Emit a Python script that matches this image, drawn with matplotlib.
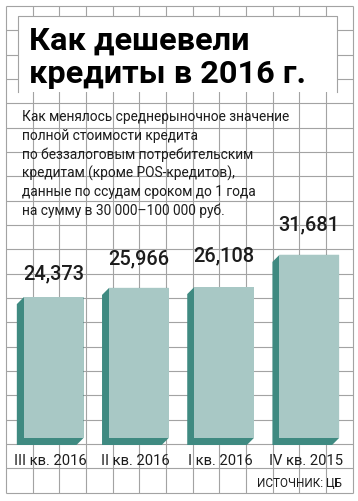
import matplotlib
matplotlib.use("Agg")
import matplotlib.pyplot as plt
from matplotlib.patches import Rectangle, Polygon

# ---------------- data ----------------
categories = ["III кв. 2016", "II кв. 2016", "I кв. 2016", "IV кв. 2015"]
values = [24.373, 25.966, 26.108, 31.681]
value_labels = ["24,373", "25,966", "26,108", "31,681"]
title_lines = ["Как дешевели", "кредиты в 2016 г."]
subtitle_lines = [
    "Как менялось среднерыночное значение",
    "полной стоимости кредита",
    "по беззалоговым потребительским",
    "кредитам (кроме POS-кредитов),",
    "данные по ссудам сроком до 1 года",
    "на сумму в 30 000–100 000 руб.",
]
source = "ИСТОЧНИК: ЦБ"

# ---------------- layout / style ----------------
W, H = 358, 501
DPI = 100
def pt(px):
    return px * 72.0 / DPI

FONT = ["Roboto", "DejaVu Sans"]
grid_color = "#a3a3a3"
face_color = "#a8c8c5"
side_color = "#3f8a81"
text_color = "#1c1c1c"

fig = plt.figure(figsize=(W / DPI, H / DPI), dpi=DPI)
fig.patch.set_facecolor("white")

# background axes in pixel coordinates (y downwards)
bg = fig.add_axes([0, 0, 1, 1])
bg.set_xlim(0, W)
bg.set_ylim(H, 0)
bg.axis("off")

xs = [6 + 26.67 * k for k in range(14)]
ys = [6 + 24.33 * k for k in range(21)]
bg.vlines(xs, ys[0], ys[-1], color=grid_color, lw=0.8, zorder=1)
bg.hlines(ys, xs[0], xs[-1], color=grid_color, lw=0.8, zorder=1)

# title box
bg.add_patch(Rectangle((18, 16), 319, 76, facecolor="white", edgecolor="none", zorder=2))
bg.plot([18, 18, 337, 337], [92, 16, 16, 92], color=grid_color, lw=0.8, zorder=3)
title_baselines = [49.3, 82.7]
for line, yb in zip(title_lines, title_baselines):
    bg.text(29, yb, line, fontsize=pt(32.5), fontweight="bold",
            family=FONT, color="black", va="baseline", ha="left", zorder=4)

for i, line in enumerate(subtitle_lines):
    bg.text(22, 120.7 + 18.9 * i, line, fontsize=pt(13.8), family=FONT,
            color=text_color, va="baseline", ha="left", zorder=4)

bg.text(341.7, 486.7, source, fontsize=pt(11.8), family=FONT,
        color=text_color, va="baseline", ha="right", zorder=4)

# bar axes
spacing_px = 85.2
px_per_unit = 5.78
base_px = 438
ax_left = 53.65 - 0.5 * spacing_px
ax_w = 4 * spacing_px
ax_bottom = H - base_px
ax_h = 238
ax = fig.add_axes([ax_left / W, ax_bottom / H, ax_w / W, ax_h / H])
ax.set_xlim(-0.5, 3.5)
ax.set_ylim(0, ax_h / px_per_unit)
ax.axis("off")
ax.patch.set_alpha(0)

bar_w = 0.70
d = 7  # px extrusion
dx = d / spacing_px
dy = d / px_per_unit
bars = ax.bar(range(len(values)), values, width=bar_w, color=face_color,
              edgecolor="none", zorder=3)
for b in bars:
    x0, x1 = b.get_x(), b.get_x() + b.get_width()
    top = b.get_height()
    poly = Polygon([(x0, top), (x0 - dx, top - dy), (x0 - dx, -dy), (x1 - dx, -dy),
                    (x1, 0), (x1, top)], closed=True, facecolor=side_color,
                   edgecolor="none", zorder=2, clip_on=False)
    ax.add_patch(poly)

label_pad_px = [18, 24, 26, 24]
for i, (v, lab) in enumerate(zip(values, value_labels)):
    ax.annotate(lab, xy=(i, v), xytext=(0, pt(label_pad_px[i])), textcoords="offset points",
                ha="center", va="baseline", fontsize=pt(20), fontweight=500,
                family=FONT, color=text_color)

for i, cat in enumerate(categories):
    ax.annotate(cat, xy=(i - dx / 2, 0), xytext=(0, -pt(27)), textcoords="offset points",
                ha="center", va="baseline", fontsize=pt(14.8),
                family=FONT, color=text_color, annotation_clip=False)

fig.savefig("out.png", dpi=DPI, facecolor="white")
